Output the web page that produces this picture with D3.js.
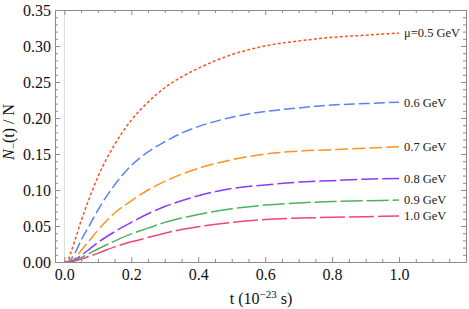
<!DOCTYPE html>
<html>
<head>
<meta charset="utf-8">
<script src="https://cdn.jsdelivr.net/npm/d3@7"></script>
<style>
  body { margin: 0; background: #fff; }
  svg { display: block; }
  svg text { font-family: "Liberation Serif", "Times New Roman", "DejaVu Serif", serif !important; }
</style>
</head>
<body>
<div id="chart"></div>
<script>
// t in units of 1e-23 s
const times = [0, 0.01, 0.02, 0.03, 0.05, 0.075, 0.1, 0.15, 0.2, 0.25, 0.3, 0.35, 0.4, 0.5, 0.6, 0.7, 0.8, 0.9, 1.0];

const mu05 = [0, 0.002, 0.014, 0.028, 0.057, 0.089, 0.118, 0.163, 0.197, 0.222, 0.242, 0.257, 0.269, 0.288, 0.300, 0.307, 0.312, 0.315, 0.318];
const mu06 = [0, 0.0005, 0.004, 0.011, 0.030, 0.051, 0.072, 0.107, 0.134, 0.153, 0.167, 0.179, 0.188, 0.201, 0.209, 0.214, 0.218, 0.220, 0.222];
const mu07 = [0, 0.0002, 0.0015, 0.004, 0.016, 0.030, 0.044, 0.068, 0.085, 0.100, 0.112, 0.122, 0.130, 0.142, 0.150, 0.154, 0.156, 0.158, 0.160];
const mu08 = [0, 0.0001, 0.001, 0.003, 0.009, 0.018, 0.027, 0.042, 0.055, 0.067, 0.077, 0.085, 0.092, 0.102, 0.107, 0.111, 0.113, 0.115, 0.116];
const mu09 = [0, 0.0001, 0.0006, 0.002, 0.006, 0.012, 0.018, 0.029, 0.039, 0.047, 0.055, 0.061, 0.066, 0.074, 0.079, 0.082, 0.084, 0.085, 0.086];
const mu10 = [0, 0, 0.0004, 0.0012, 0.004, 0.008, 0.012, 0.021, 0.028, 0.034, 0.040, 0.045, 0.049, 0.055, 0.059, 0.061, 0.062, 0.063, 0.064];

const seriesLabels = ["\u03bc=0.5 GeV", "0.6 GeV", "0.7 GeV", "0.8 GeV", "0.9 GeV", "1.0 GeV"];
const seriesValues = [mu05, mu06, mu07, mu08, mu09, mu10];
const seriesColors = ["#f7531f", "#5b80f7", "#fb9420", "#8a3cf5", "#4cb35c", "#f2456f"];
const seriesDashes = ["3,2.2", "11,4", "13,4", "17,4", "22,4", "25,4"];

const xTicks = [0.0, 0.2, 0.4, 0.6, 0.8, 1.0];
const yTicks = [0.00, 0.05, 0.10, 0.15, 0.20, 0.25, 0.30, 0.35];

const W = 469, H = 309;
const frame = { left: 55, right: 466, top: 10, bottom: 262 };

const svg = d3.select("#chart").append("svg")
  .attr("width", W).attr("height", H);

const x = d3.scaleLinear().domain([-0.028, 1.2]).range([frame.left, frame.right]);
const y = d3.scaleLinear().domain([0, 0.35]).range([frame.bottom, frame.top]);

const axisColor = "#8c8c8c";

// light axis line at t = 0
svg.append("line")
  .attr("x1", x(0)).attr("x2", x(0))
  .attr("y1", frame.top).attr("y2", frame.bottom)
  .attr("stroke", "#d9d9d9").attr("stroke-width", 1);

// curves
const line = d3.line()
  .x((d, i) => x(times[i]))
  .y(d => y(d))
  .curve(d3.curveMonotoneX);

seriesValues.forEach((vals, k) => {
  svg.append("path")
    .datum(vals)
    .attr("d", line)
    .attr("fill", "none")
    .attr("stroke", seriesColors[k])
    .attr("stroke-width", 1.5)
    .attr("stroke-dasharray", seriesDashes[k]);

  svg.append("text")
    .attr("x", x(1.0) + 5)
    .attr("y", y(vals[vals.length - 1]))
    .attr("dy", "0.35em")
    .attr("font-size", 12.5)
    .attr("fill", "#222")
    .text(seriesLabels[k]);
});

// frame with inward ticks on all sides
const minorX = d3.range(0, 1.2001, 0.05).filter(v => !xTicks.some(t => Math.abs(t - v) < 1e-6));
const minorY = d3.range(0, 0.3501, 0.01).filter(v => !yTicks.some(t => Math.abs(t - v) < 1e-6));

function styleAxis(g) {
  g.selectAll("path").attr("stroke", axisColor);
  g.selectAll("line").attr("stroke", axisColor);
}

// bottom
svg.append("g")
  .attr("transform", `translate(0,${frame.bottom})`)
  .call(d3.axisBottom(x).tickValues(xTicks).tickSizeInner(-5).tickSizeOuter(0).tickPadding(7).tickFormat(d3.format(".1f")))
  .call(styleAxis)
  .call(g => g.selectAll("text").attr("fill", "#111").attr("font-size", 16));
svg.append("g")
  .attr("transform", `translate(0,${frame.bottom})`)
  .call(d3.axisBottom(x).tickValues(minorX).tickSize(-3).tickFormat(""))
  .call(styleAxis)
  .call(g => g.select(".domain").remove());

// top
svg.append("g")
  .attr("transform", `translate(0,${frame.top})`)
  .call(d3.axisTop(x).tickValues(xTicks).tickSizeInner(-5).tickSizeOuter(0).tickFormat(""))
  .call(styleAxis);
svg.append("g")
  .attr("transform", `translate(0,${frame.top})`)
  .call(d3.axisTop(x).tickValues(minorX).tickSize(-3).tickFormat(""))
  .call(styleAxis)
  .call(g => g.select(".domain").remove());

// left
svg.append("g")
  .attr("transform", `translate(${frame.left},0)`)
  .call(d3.axisLeft(y).tickValues(yTicks).tickSizeInner(-5).tickSizeOuter(0).tickPadding(4).tickFormat(d3.format(".2f")))
  .call(styleAxis)
  .call(g => g.selectAll("text").attr("fill", "#111").attr("font-size", 16));
svg.append("g")
  .attr("transform", `translate(${frame.left},0)`)
  .call(d3.axisLeft(y).tickValues(minorY).tickSize(-3).tickFormat(""))
  .call(styleAxis)
  .call(g => g.select(".domain").remove());

// right
svg.append("g")
  .attr("transform", `translate(${frame.right},0)`)
  .call(d3.axisRight(y).tickValues(yTicks).tickSizeInner(-5).tickSizeOuter(0).tickFormat(""))
  .call(styleAxis);
svg.append("g")
  .attr("transform", `translate(${frame.right},0)`)
  .call(d3.axisRight(y).tickValues(minorY).tickSize(-3).tickFormat(""))
  .call(styleAxis)
  .call(g => g.select(".domain").remove());

// x title
const xt = svg.append("text")
  .attr("x", 261).attr("y", 304)
  .attr("text-anchor", "middle")
  .attr("font-size", 16)
  .attr("fill", "#111");
xt.append("tspan").text("t (10");
xt.append("tspan").attr("dy", -6).attr("font-size", 11).text("\u221223");
xt.append("tspan").attr("dy", 6).text(" s)");

// y title
const yt = svg.append("text")
  .attr("transform", "translate(14,132) rotate(-90)")
  .attr("text-anchor", "middle")
  .attr("font-size", 16)
  .attr("fill", "#111");
yt.append("tspan").attr("font-style", "italic").text("N");
yt.append("tspan").attr("dy", 3).attr("font-size", 11).text("\u2212");
yt.append("tspan").attr("dy", -3).text("(t) / N");
</script>
</body>
</html>
